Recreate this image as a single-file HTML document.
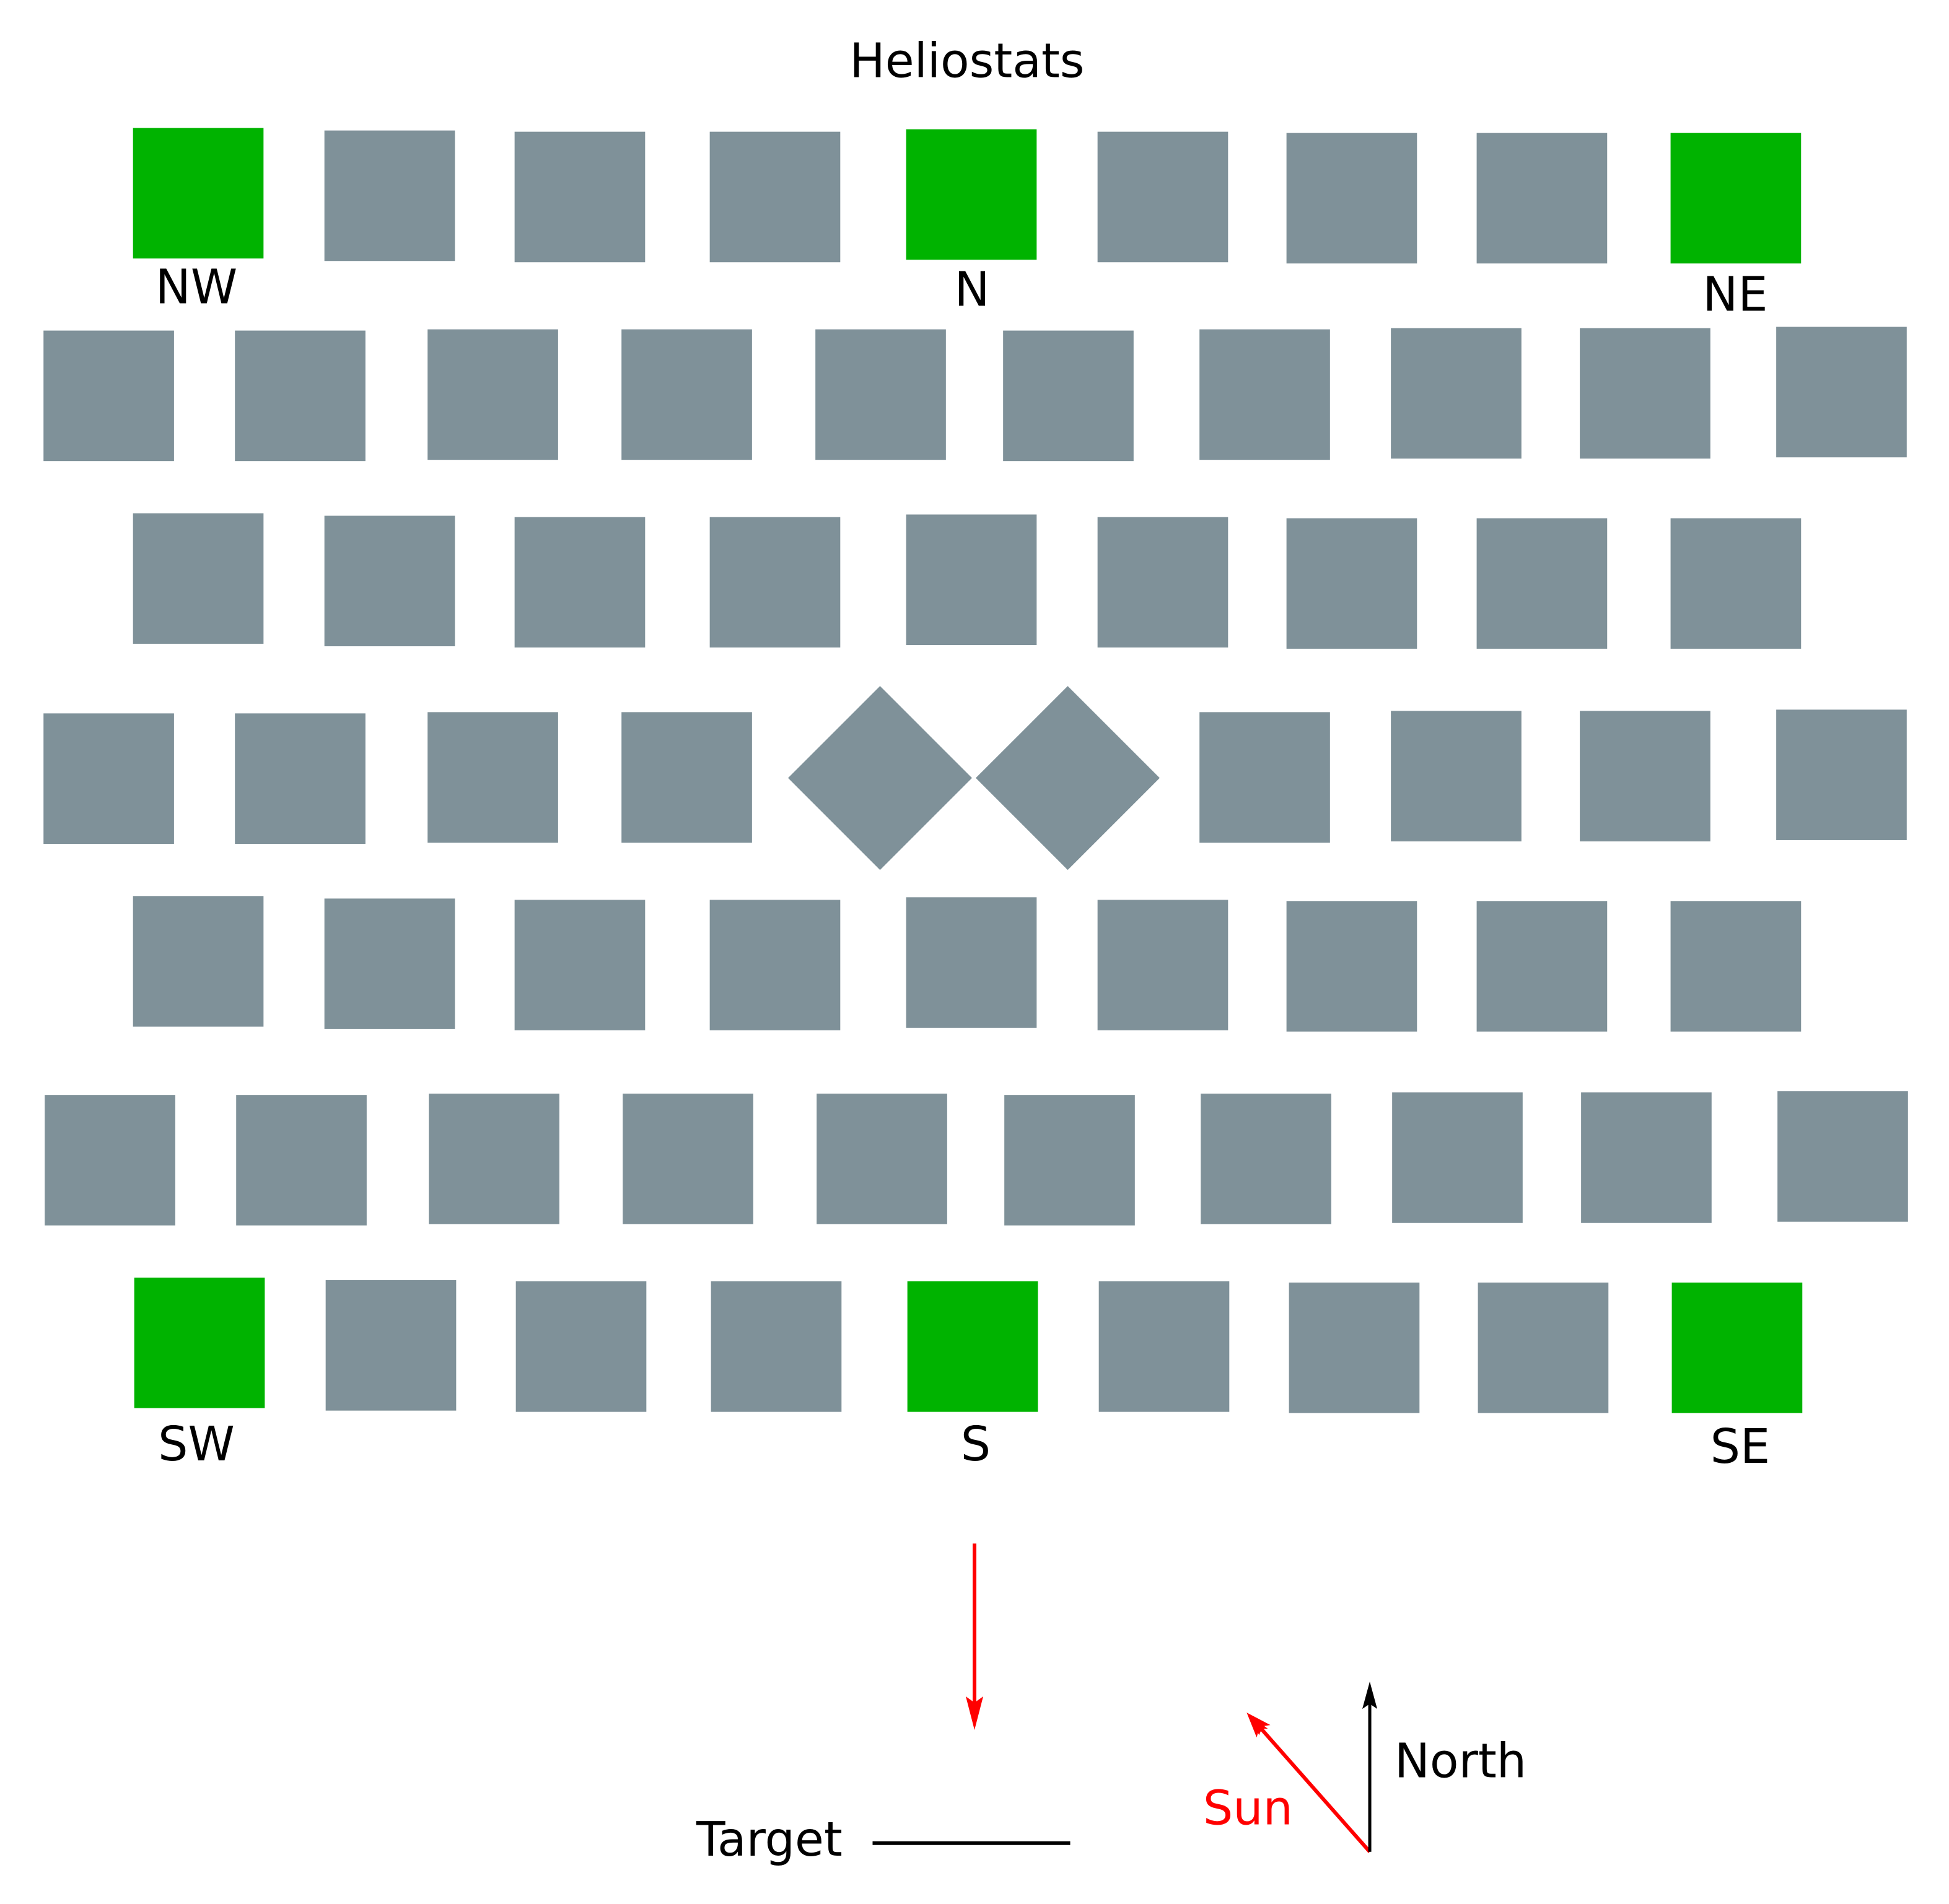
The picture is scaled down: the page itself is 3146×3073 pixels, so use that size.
<!DOCTYPE html>
<html><head><style>html,body{margin:0;padding:0;background:#fff}svg{display:block}</style></head>
<body>
<svg width="3146" height="3073" viewBox="0 0 1568 1532" preserveAspectRatio="none" xmlns="http://www.w3.org/2000/svg">
<g fill="#7f9199">
<rect x="261" y="105" width="105" height="105"/><rect x="414" y="106" width="105" height="105"/><rect x="571" y="106" width="105" height="105"/><rect x="883" y="106" width="105" height="105"/><rect x="1035" y="107" width="105" height="105"/><rect x="1188" y="107" width="105" height="105"/>
<rect x="35" y="266" width="105" height="105"/><rect x="189" y="266" width="105" height="105"/><rect x="344" y="265" width="105" height="105"/><rect x="500" y="265" width="105" height="105"/><rect x="656" y="265" width="105" height="105"/><rect x="807" y="266" width="105" height="105"/><rect x="965" y="265" width="105" height="105"/><rect x="1119" y="264" width="105" height="105"/><rect x="1271" y="264" width="105" height="105"/><rect x="1429" y="263" width="105" height="105"/>
<rect x="107" y="413" width="105" height="105"/><rect x="261" y="415" width="105" height="105"/><rect x="414" y="416" width="105" height="105"/><rect x="571" y="416" width="105" height="105"/><rect x="729" y="414" width="105" height="105"/><rect x="883" y="416" width="105" height="105"/><rect x="1035" y="417" width="105" height="105"/><rect x="1188" y="417" width="105" height="105"/><rect x="1344" y="417" width="105" height="105"/>
<rect x="35" y="574" width="105" height="105"/><rect x="189" y="574" width="105" height="105"/><rect x="344" y="573" width="105" height="105"/><rect x="500" y="573" width="105" height="105"/>
<polygon points="708,552 782,626 708,700 634,626"/><polygon points="859,552 933,626 859,700 785,626"/>
<rect x="965" y="573" width="105" height="105"/><rect x="1119" y="572" width="105" height="105"/><rect x="1271" y="572" width="105" height="105"/><rect x="1429" y="571" width="105" height="105"/>
<rect x="107" y="721" width="105" height="105"/><rect x="261" y="723" width="105" height="105"/><rect x="414" y="724" width="105" height="105"/><rect x="571" y="724" width="105" height="105"/><rect x="729" y="722" width="105" height="105"/><rect x="883" y="724" width="105" height="105"/><rect x="1035" y="725" width="105" height="105"/><rect x="1188" y="725" width="105" height="105"/><rect x="1344" y="725" width="105" height="105"/>
<rect x="36" y="881" width="105" height="105"/><rect x="190" y="881" width="105" height="105"/><rect x="345" y="880" width="105" height="105"/><rect x="501" y="880" width="105" height="105"/><rect x="657" y="880" width="105" height="105"/><rect x="808" y="881" width="105" height="105"/><rect x="966" y="880" width="105" height="105"/><rect x="1120" y="879" width="105" height="105"/><rect x="1272" y="879" width="105" height="105"/><rect x="1430" y="878" width="105" height="105"/>
<rect x="262" y="1030" width="105" height="105"/><rect x="415" y="1031" width="105" height="105"/><rect x="572" y="1031" width="105" height="105"/><rect x="884" y="1031" width="105" height="105"/><rect x="1037" y="1032" width="105" height="105"/><rect x="1189" y="1032" width="105" height="105"/>
</g>
<g fill="#00b300">
<rect x="107" y="103" width="105" height="105"/><rect x="729" y="104" width="105" height="105"/><rect x="1344" y="107" width="105" height="105"/>
<rect x="108" y="1028" width="105" height="105"/><rect x="730" y="1031" width="105" height="105"/><rect x="1345" y="1032" width="105" height="105"/>
</g>
<g font-family="DejaVu Sans, Liberation Sans, sans-serif" font-size="38" text-anchor="middle" fill="#000">
<text x="778" y="62">Heliostats</text>
<text x="158" y="244">NW</text><text x="782" y="246">N</text><text x="1396" y="250">NE</text>
<text x="158" y="1175">SW</text><text x="785" y="1175">S</text><text x="1400" y="1177">SE</text>
<text x="619" y="1493">Target</text>
<text x="1175" y="1430">North</text>
<text x="1004" y="1468" fill="red">Sun</text>
</g>
<line x1="784" y1="1242" x2="784" y2="1375" stroke="red" stroke-width="3"/>
<polygon points="784,1392 791,1365 784,1370 777,1365" fill="red"/>
<line x1="1102" y1="1490" x2="1012" y2="1388" stroke="red" stroke-width="3"/>
<polygon points="1003,1378 1020,1391 1013,1391 1011,1398" fill="red" transform="rotate(0)"/>
<polygon points="1003,1378 1022,1388 1016,1389 1013,1396" fill="red"/>
<line x1="1102" y1="1490" x2="1102" y2="1370" stroke="#000" stroke-width="2.5"/>
<polygon points="1102,1353 1108,1375 1102,1371 1096,1375" fill="#000"/>
<line x1="702" y1="1483" x2="861" y2="1483" stroke="#000" stroke-width="3"/>
</svg>
</body></html>
